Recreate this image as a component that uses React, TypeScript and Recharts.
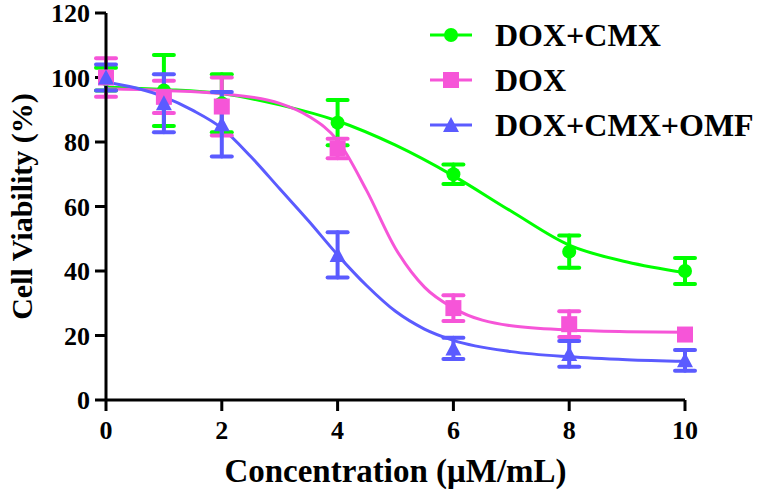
import React from 'react';
import { ComposedChart, Line, Scatter, ErrorBar, XAxis, YAxis, Legend, Label } from 'recharts';

// measured points (mean ± SD)
const concentrations = [0, 1, 2, 4, 6, 8, 10];

const doxCmxMean = [99.5, 96, 92, 86, 70, 46, 40];
const doxCmxSd = [3.5, 11, 9, 7, 3, 5, 4];
const doxMean = [100, 94, 91, 78, 28.5, 23.5, 20.3];
const doxSd = [6, 5, 9, 3, 4, 4, 0];
const omfMean = [100, 92, 85.5, 45, 16, 14.3, 12.3];
const omfSd = [4, 9, 10, 7, 3.3, 4, 3.2];

// fitted curves
const doxCmxFitX = [0, 1, 2, 3, 4, 5, 6, 7, 8, 9, 10];
const doxCmxFit = [97, 96.3, 95, 91.5, 86.5, 79, 69.5, 58.5, 48, 42.8, 39.5];
const doxFitX = [0, 1, 2, 3, 3.5, 4, 4.5, 5, 5.5, 6, 7, 8, 9, 10];
const doxFit = [96.5, 96, 95, 92, 88, 80.5, 65, 47, 35, 28.5, 23, 21.7, 21.2, 21];
const omfFitX = [0, 0.5, 1, 1.5, 2, 2.5, 3, 3.5, 4, 4.5, 5, 5.5, 6, 7, 8, 9, 10];
const omfFit = [98.5, 96.8, 94, 89.8, 84.3, 75.5, 65.5, 55.5, 45, 35.5, 27.5, 22, 18.5, 15, 13.4, 12.5, 12];

const xTicks = [0, 2, 4, 6, 8, 10];
const yTicks = [0, 20, 40, 60, 80, 100, 120];

const FONT = "'Liberation Serif', 'DejaVu Serif', 'Times New Roman', Times, serif";

type Shape = 'circle' | 'square' | 'triangle';

const series = [
  { name: 'DOX+CMX', color: '#00FF00', shape: 'circle' as Shape, mean: doxCmxMean, sd: doxCmxSd, fitX: doxCmxFitX, fit: doxCmxFit },
  { name: 'DOX', color: '#F655D8', shape: 'square' as Shape, mean: doxMean, sd: doxSd, fitX: doxFitX, fit: doxFit },
  { name: 'DOX+CMX+OMF', color: '#5B5BFF', shape: 'triangle' as Shape, mean: omfMean, sd: omfSd, fitX: omfFitX, fit: omfFit },
];

const textStyle = { fontFamily: FONT, fontWeight: 700 };

const Marker = ({ shape, cx, cy, color }: { shape: Shape; cx: number; cy: number; color: string }) => {
  if (shape === 'circle') return <circle cx={cx} cy={cy} r={7} fill={color} />;
  if (shape === 'square') return <rect x={cx - 8} y={cy - 8} width={16} height={16} fill={color} />;
  return <polygon points={`${cx},${cy - 8} ${cx + 8},${cy + 7} ${cx - 8},${cy + 7}`} fill={color} />;
};

const LegendBox = () => (
  <svg width={335} height={140}>
    {series.map((s, i) => {
      const y = 25 + i * 45;
      return (
        <g key={s.name}>
          <line x1={5} x2={47} y1={y} y2={y} stroke={s.color} strokeWidth={3} />
          <Marker shape={s.shape} cx={26} cy={y} color={s.color} />
          <text x={70} y={y + 11} style={{ ...textStyle, fontSize: 32 }} fill="#000">
            {s.name}
          </text>
        </g>
      );
    })}
  </svg>
);

export default function App() {
  const tickStyle = { fontSize: 26, fill: '#000', style: textStyle };
  return (
    <div style={{ position: 'absolute', left: 0, top: 0, width: 760, height: 494, background: '#fff', fontFamily: FONT }}>
      <ComposedChart width={760} height={494} margin={{ top: 13, right: 75, bottom: 0, left: 0 }}>
        <XAxis
          type="number"
          dataKey="x"
          domain={[0, 10]}
          ticks={xTicks}
          interval={0}
          height={94}
          tickSize={11}
          tickMargin={10}
          axisLine={{ stroke: '#000', strokeWidth: 3 }}
          tickLine={{ stroke: '#000', strokeWidth: 3 }}
          tick={tickStyle}
        >
          <Label
            content={({ viewBox }: any) => (
              <text
                x={viewBox.x + viewBox.width / 2}
                y={viewBox.y + 82}
                textAnchor="middle"
                style={{ ...textStyle, fontSize: 33 }}
                fill="#000"
              >
                Concentration (μM/mL)
              </text>
            )}
          />
        </XAxis>
        <YAxis
          type="number"
          dataKey="y"
          domain={[0, 120]}
          ticks={yTicks}
          interval={0}
          width={106}
          tickSize={11}
          tickMargin={5}
          axisLine={{ stroke: '#000', strokeWidth: 3 }}
          tickLine={{ stroke: '#000', strokeWidth: 3 }}
          tick={tickStyle}
        >
          <Label
            content={({ viewBox }: any) => {
              const cx = 32;
              const cy = viewBox.y + viewBox.height / 2;
              return (
                <text
                  x={cx}
                  y={cy}
                  transform={`rotate(-90 ${cx} ${cy})`}
                  textAnchor="middle"
                  style={{ ...textStyle, fontSize: 30 }}
                  fill="#000"
                >
                  Cell Viability (%)
                </text>
              );
            }}
          />
        </YAxis>
        <Legend
          layout="vertical"
          align="center"
          verticalAlign="middle"
          content={() => <LegendBox />}
          wrapperStyle={{ top: 10, left: 425, width: 335 }}
        />
        {series.map((s) => (
          <Line
            key={`fit-${s.name}`}
            data={s.fitX.map((x, i) => ({ x, y: s.fit[i] }))}
            dataKey="y"
            type="monotone"
            stroke={s.color}
            strokeWidth={3}
            dot={false}
            activeDot={false}
            legendType="none"
            isAnimationActive={false}
          />
        ))}
        {series.map((s) => (
          <Scatter
            key={`pts-${s.name}`}
            name={s.name}
            data={concentrations.map((x, i) => ({ x, y: s.mean[i], err: s.sd[i] }))}
            fill={s.color}
            isAnimationActive={false}
            shape={(p: any) => <Marker shape={s.shape} cx={p.cx} cy={p.cy} color={s.color} />}
          >
            <ErrorBar
              dataKey="err"
              direction="y"
              width={10}
              stroke={s.color}
              strokeWidth={4}
              strokeLinecap="round"
              isAnimationActive={false}
            />
          </Scatter>
        ))}
      </ComposedChart>
    </div>
  );
}
